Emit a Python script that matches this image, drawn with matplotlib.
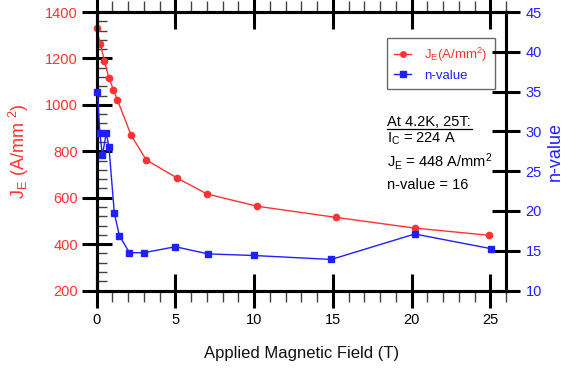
import matplotlib
matplotlib.use('Agg')
import matplotlib.pyplot as plt
from matplotlib.ticker import MultipleLocator
from matplotlib.lines import Line2D

plt.rcParams['font.family'] = ['Liberation Sans', 'DejaVu Sans']
plt.rcParams['mathtext.fontset'] = 'custom'
plt.rcParams['mathtext.rm'] = 'Liberation Sans'
plt.rcParams['mathtext.it'] = 'Liberation Sans:italic'

RED = '#ff3333'
BLUE = '#2020ff'

# Data
field_je = [0.0, 0.23, 0.49, 0.78, 1.06, 1.31, 2.18, 3.14, 5.1, 7.0, 10.2, 15.2, 20.2, 24.9]
je = [1330, 1262, 1190, 1114, 1066, 1022, 870, 763, 685, 616, 563, 515, 469, 438]
field_n = [0.05, 0.2, 0.36, 0.61, 0.78, 1.12, 1.44, 2.08, 3.0, 5.0, 7.07, 9.97, 14.9, 20.2, 25.07]
nval = [35.0, 29.8, 27.0, 29.8, 28.0, 19.7, 16.9, 14.75, 14.75, 15.5, 14.6, 14.4, 13.9, 17.1, 15.25]
x_ticks = [0, 5, 10, 15, 20, 25]
left_ticks = [200, 400, 600, 800, 1000, 1200, 1400]
right_ticks = [10, 15, 20, 25, 30, 35, 40, 45]

fig = plt.figure(figsize=(5.68, 3.69), dpi=100)
ax = fig.add_axes([96.7/568, 1-290.5/369, (506-96.7)/568, (290.5-12)/369])
ax2 = ax.twinx()

ax.plot(field_je, je, '-o', color=RED, lw=1.0, ms=4.5, mec=RED, mfc=RED, zorder=3, clip_on=False)
ax2.plot(field_n, nval, '-s', color=BLUE, lw=1.0, ms=5, mec=BLUE, mfc=BLUE, zorder=3, clip_on=False)

ax.set_xlim(0, 26)
ax.set_ylim(200, 1400)
ax2.set_ylim(10, 45)
ax.set_xticks(x_ticks)
ax.set_yticks(left_ticks)
ax2.set_yticks(right_ticks)
ax.xaxis.set_minor_locator(MultipleLocator(1))
ax.yaxis.set_minor_locator(MultipleLocator(40))

for a in (ax, ax2):
    for s in a.spines.values():
        s.set_linewidth(2.2)
        s.set_color('black')

ax.tick_params(axis='x', which='major', direction='inout', length=24, width=2.2,
               top=True, bottom=True, pad=4, labelsize=10.5, colors='black')
ax.tick_params(axis='x', which='minor', direction='out', length=8, width=1.0,
               top=True, bottom=True, color='#444444')
ax.tick_params(axis='y', which='major', direction='inout', length=21, width=2.2,
               left=True, right=False, pad=3, labelsize=10.5, labelcolor=RED, color='black')
ax.tick_params(axis='y', which='minor', direction='in', length=7, width=1.0,
               left=True, right=False, color='#444444')
ax2.tick_params(axis='y', which='major', direction='inout', length=20, width=2.2,
                right=True, pad=4, labelsize=10.5, labelcolor=BLUE, color='black')
ax2.tick_params(axis='y', which='minor', right=False)

ax.set_xlabel('Applied Magnetic Field (T)', fontsize=12, color='#111111', labelpad=14)
ax.set_ylabel(r'J$_\mathregular{E}$ (A/mm $^\mathregular{2}$)', fontsize=13, color=RED)
ax.yaxis.set_label_coords(-0.16, 0.5)
ax2.set_ylabel('n-value', fontsize=13, color=BLUE, rotation=90)
ax2.yaxis.set_label_coords(1.10, 0.5)

handles = [Line2D([], [], color=RED, marker='o', ms=4, lw=1.0),
           Line2D([], [], color=BLUE, marker='s', ms=4, lw=1.0)]
leg = ax.legend(handles, [r'J$_\mathregular{E}$(A/mm$^\mathregular{2}$)', 'n-value'],
                loc='upper left', bbox_to_anchor=(386.7/568, 1-38.3/369),
                bbox_transform=fig.transFigure, fontsize=9.5, frameon=True,
                fancybox=False, handlelength=1.3, handletextpad=1.0,
                borderpad=0.55, labelspacing=0.45, borderaxespad=0)
leg.get_frame().set_edgecolor('#444444')
leg.get_frame().set_linewidth(1.0)
for t, c in zip(leg.get_texts(), [RED, BLUE]):
    t.set_color(c)

tx = 387.3/568
fig.text(tx, 1-121.5/369, 'At 4.2K, 25T:', fontsize=10.5, va='center', ha='left')
fig.add_artist(Line2D([tx, 471.5/568], [1-128.5/369, 1-128.5/369], color='black', lw=0.9))
fig.text(tx, 1-139/369, r'I$_\mathregular{C}$ = 224 A', fontsize=10.5, va='center', ha='left')
fig.text(tx, 1-161/369, r'J$_\mathregular{E}$ = 448 A/mm$^\mathregular{2}$', fontsize=10.5, va='center', ha='left')
fig.text(tx, 1-185/369, 'n-value = 16', fontsize=10.5, va='center', ha='left')

fig.savefig('out.png', dpi=100)
